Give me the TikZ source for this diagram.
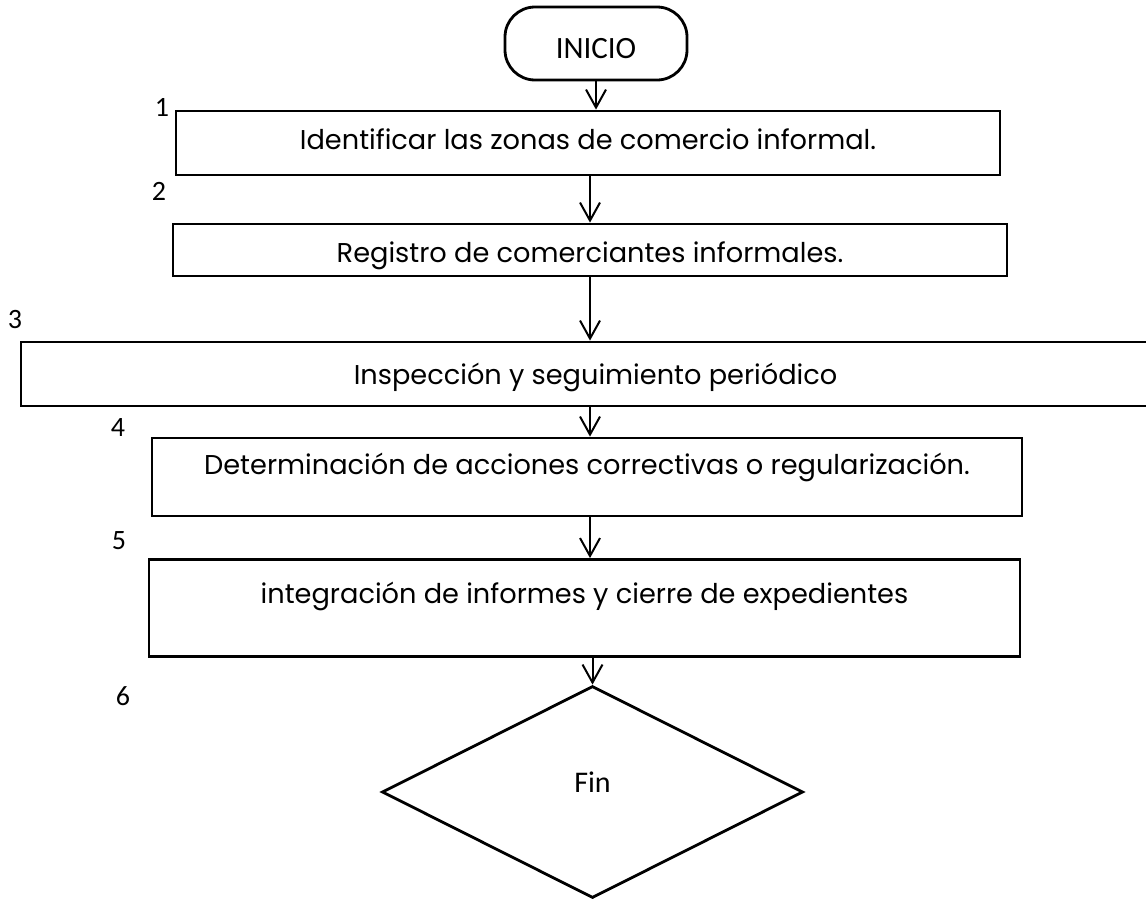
\documentclass[tikz,border=0pt]{standalone}
\usepackage{fontspec}
\setmainfont{Poppins}
\newfontfamily\numfont{Carlito}
\usetikzlibrary{arrows.meta, shapes.geometric}

\tikzset{
	paso/.style = {draw, rectangle, line width = 1.4pt, inner sep = 0pt, font = \fontsize{13.6}{16}\selectfont},
	num/.style = {font = \numfont\fontsize{14}{16}\selectfont},
	flecha/.style = {->, line width = 1pt, >={Straight Barb[length = 9pt, width = 10pt]}}
}

\begin{document}
\begin{tikzpicture}[x = 0.5pt, y = -0.5pt]
		\useasboundingbox (0, 0) rectangle (1146, 900);
		\node[draw, line width = 1.4pt, rounded corners = 15pt, minimum width = 91pt, minimum height = 36.5pt, inner sep = 0pt, text height = 15pt, text depth = 0.5pt, font = \numfont\fontsize{15.5}{18}\selectfont] (inicio) at (596, 43.5) {INICIO};
		\node[paso, minimum width = 412pt, minimum height = 32pt, text height = 10pt, text depth = 4pt] (paso1) at (588, 143) {Identificar las zonas de comercio informal.};
		\node[paso, minimum width = 417pt, minimum height = 26pt, text height = 13pt, text depth = 1pt] (paso2) at (590, 250) {Registro de comerciantes informales.};
		\node[paso, minimum width = 574.5pt, minimum height = 32pt, text height = 12pt, text depth = 2pt] (paso3) at (595.5, 374) {Inspección y seguimiento periódico};
		\node[paso, minimum width = 435pt, minimum height = 39pt, text height = 8pt, text depth = 11pt] (paso4) at (587, 477) {Determinación de acciones correctivas o regularización.};
		\node[paso, minimum width = 435.5pt, minimum height = 48.5pt, text height = 7pt, text depth = 12pt] (paso5) at (584.5, 608) {integración de informes y cierre de expedientes};
		\node[draw, diamond, line width = 1.4pt, minimum width = 210.5pt, minimum height = 106pt, inner sep = 0pt, text height = 5pt, text depth = 5pt, font = \numfont\fontsize{15}{18}\selectfont] (fin) at (592.5, 792) {Fin};
		% numeros de paso
		\node[num] (n1) at (162, 107) {1};
		\node[num] (n2) at (159, 191) {2};
		\node[num] (n3) at (15, 320) {3};
		\node[num] (n4) at (118, 428) {4};
		\node[num] (n5) at (119, 541) {5};
		\node[num] (n6) at (123, 696) {6};
		% flechas
		\draw[flecha] (inicio.south) -- (inicio.south |- paso1.north);
		\draw[flecha] (paso2.north |- paso1.south) -- (paso2.north);
		\draw[flecha] (paso2.south) -- (paso2.south |- paso3.north);
		\draw[flecha] (paso2.south |- paso3.south) -- (paso2.south |- paso4.north);
		\draw[flecha] (paso2.south |- paso4.south) -- (paso2.south |- paso5.north);
		\draw[flecha] (fin.north |- paso5.south) -- (fin.north);
	\end{tikzpicture}
\end{document}
